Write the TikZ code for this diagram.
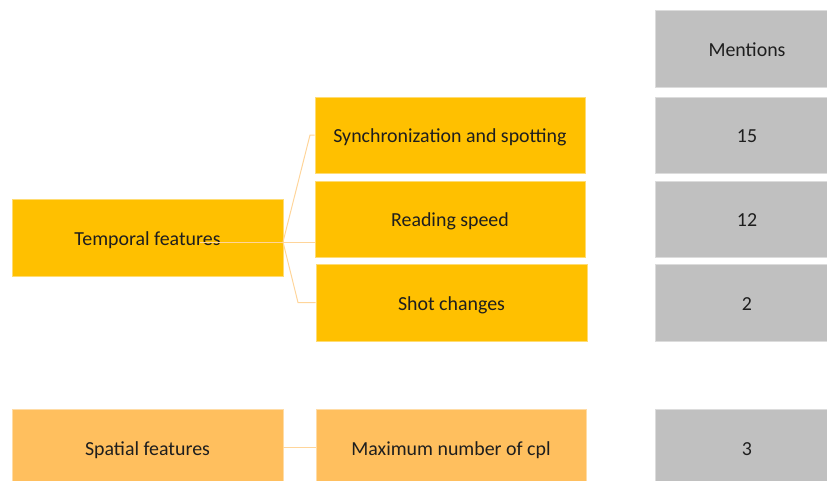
\documentclass[tikz,border=0pt]{standalone}
\usepackage{fontspec}
\setmainfont{Carlito}
\definecolor{gold}{HTML}{FFC000}
\definecolor{peach}{HTML}{FFBF5E}
\definecolor{greybox}{HTML}{C0C0C0}
\definecolor{conn}{HTML}{FFD59A}
\definecolor{txt}{HTML}{1E1E1E}
\begin{document}
\begin{tikzpicture}[x=1pt,y=-1pt,
  box/.style={rectangle, inner sep=0pt, text=txt, text height=19pt, text depth=4pt, font=\fontsize{19.9}{24}\selectfont},
  goldbox/.style={box, fill=gold, draw=gold!55!white, line width=0.8pt},
  peachbox/.style={box, fill=peach, draw=peach!55!white, line width=0.8pt},
  greyb/.style={box, fill=greybox, draw=greybox!55!white, line width=0.8pt},
  connector/.style={draw=conn, line width=1pt}]
\useasboundingbox (0,0) rectangle (827,480);
\clip (0,0) rectangle (827,480);
% left column
\node[goldbox, minimum width=271pt, minimum height=77pt] (temporal) at (147.5,237.5) {Temporal features};
\node[peachbox, minimum width=271pt, minimum height=77pt] (spatial) at (147.5,447.5) {Spatial features};
% middle column
\node[goldbox, minimum width=270pt, minimum height=76pt] (sync) at (450,135) {Synchronization and spotting};
\node[goldbox, minimum width=270pt, minimum height=76pt] (reading) at (450,219) {Reading speed};
\node[goldbox, minimum width=271pt, minimum height=77pt] (shot) at (451.5,302.5) {Shot changes};
\node[peachbox, minimum width=270pt, minimum height=77pt] (maxcpl) at (451,447.5) {Maximum number of cpl};
% right column
\node[greyb, minimum width=184pt, minimum height=77pt] (mentions) at (747,48.5) {Mentions};
\node[greyb, minimum width=184pt, minimum height=76pt] (m15) at (747,135) {15};
\node[greyb, minimum width=184pt, minimum height=76pt] (m12) at (747,219) {12};
\node[greyb, minimum width=184pt, minimum height=77pt] (m2) at (747,302.5) {2};
\node[greyb, minimum width=184pt, minimum height=77pt] (m3) at (747,447.5) {3};
% connectors
\coordinate (hub) at (283,242);
\coordinate (inner) at (200,242);
\coordinate (elbowtop) at (310,135);
\coordinate (elbowbot) at (298,302.5);
\draw[connector] (inner) -- (hub);
\draw[connector] (hub) -- (reading.west |- hub);
\draw[connector] (hub) -- (elbowtop) -- (sync.west);
\draw[connector] (hub) -- (elbowbot) -- (shot.west);
\draw[connector] (spatial.east) -- (maxcpl.west);
\end{tikzpicture}
\end{document}
